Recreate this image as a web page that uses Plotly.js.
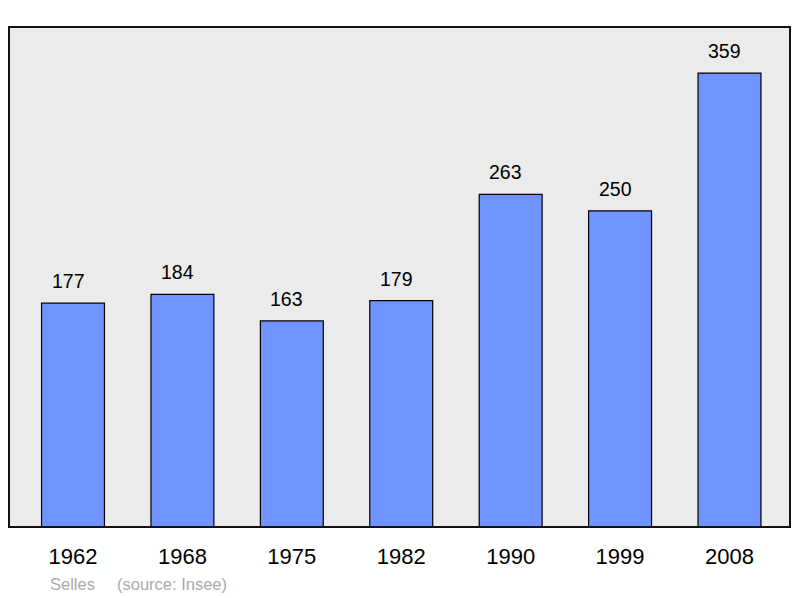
<!DOCTYPE html>
<html>
<head>
<meta charset="utf-8">
<script src="https://cdn.plot.ly/plotly-3.0.1.min.js"></script>
<style>html,body{margin:0;padding:0;background:#fff;}#chart{width:800px;height:598px;}</style>
</head>
<body>
<div id="chart"></div>
<script>
const years = ["1962", "1968", "1975", "1982", "1990", "1999", "2008"];
const population = [177, 184, 163, 179, 263, 250, 359];
const commune = "Selles";
const source = "(source: Insee)";

const FONT = "Liberation Sans, Arial, sans-serif";

const trace = {
  type: "bar",
  x: years,
  y: population,
  width: 0.575,
  marker: { color: "#7094ff", line: { color: "#000000", width: 1.2 } },
  hoverinfo: "skip"
};

const valueLabels = years.map((yr, i) => ({
  x: years.indexOf(yr), y: population[i], xref: "x", yref: "y",
  text: String(population[i]), showarrow: false,
  yanchor: "bottom", yshift: 9, xshift: -5,
  font: { family: FONT, size: 19.5, color: "#000" }
}));

const W = 781;
const footer = [
  { text: commune, x: (48 - 9) / W },
  { text: source, x: (115 - 9) / W }
].map(a => ({
  text: a.text, x: a.x, xref: "paper", y: 0, yref: "paper",
  xanchor: "left", yanchor: "middle", yshift: -57, showarrow: false,
  font: { family: FONT, size: 16.5, color: "#aaaaaa" }
}));

const layout = {
  width: 800, height: 598,
  margin: { l: 9, r: 10, t: 27, b: 71, pad: 0 },
  paper_bgcolor: "#ffffff",
  plot_bgcolor: "#ebebeb",
  showlegend: false,
  font: { family: FONT },
  xaxis: {
    type: "category",
    range: [-0.585, 6.553],
    showgrid: false, zeroline: false, showline: false,
    ticks: "", ticklabelstandoff: 14,
    tickfont: { family: FONT, size: 22, color: "#000" },
    fixedrange: true
  },
  yaxis: {
    range: [0, 395.4],
    showgrid: false, zeroline: false, showline: false,
    showticklabels: false, ticks: "",
    fixedrange: true
  },
  shapes: [{
    type: "rect", xref: "paper", yref: "paper",
    x0: 0, x1: 1, y0: 0, y1: 1,
    line: { color: "#111111", width: 2 },
    layer: "above"
  }],
  annotations: valueLabels.concat(footer)
};

Plotly.newPlot("chart", [trace], layout, { displayModeBar: false, staticPlot: true });
</script>
</body>
</html>
